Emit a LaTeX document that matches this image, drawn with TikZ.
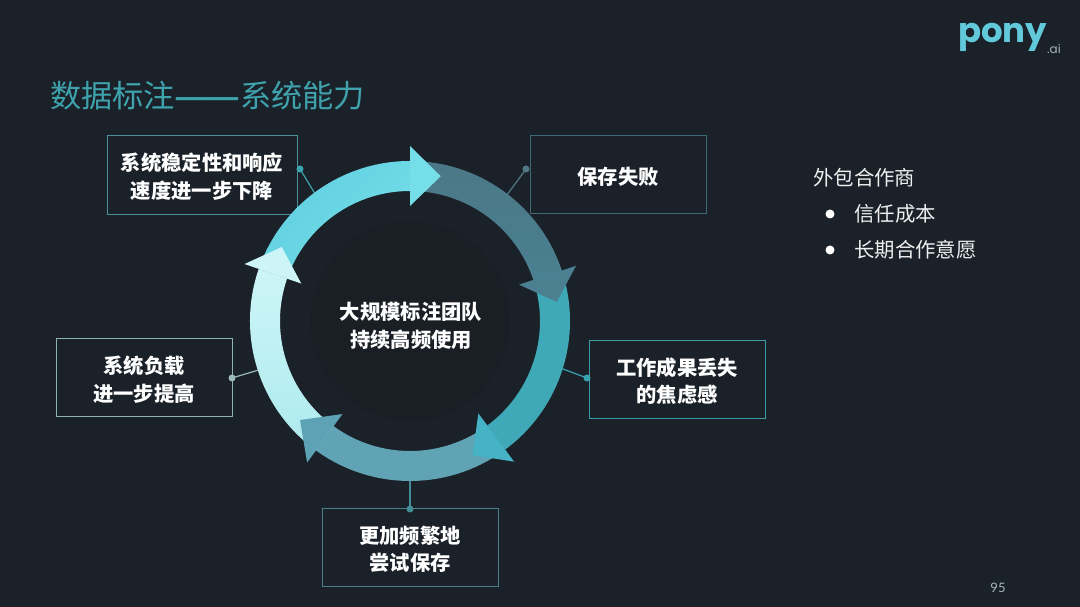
\documentclass[tikz,border=0pt]{standalone}
\usepackage{fontspec}
\setmainfont{Noto Sans CJK SC}
\newfontfamily\logofont{Poppins}
\newfontfamily\numfont{Lato}
\newfontfamily\dashfont{Liberation Sans}
\definecolor{bgc}{HTML}{1B2129}
\definecolor{innerc}{HTML}{1A1F26}
\definecolor{titlec}{HTML}{3FA3AD}
\definecolor{listc}{HTML}{EDEFF0}
\definecolor{logoc}{HTML}{62C9DA}
\definecolor{logog}{HTML}{A9B4B8}
\definecolor{cA}{HTML}{5FCFE0}
\definecolor{cAb}{HTML}{76DEE9}
\definecolor{cB}{HTML}{4B7886}
\definecolor{cBb}{HTML}{4A8090}
\definecolor{cC}{HTML}{3FA9B8}
\definecolor{cCb}{HTML}{45B3C5}
\definecolor{cD}{HTML}{5FA3B5}
\definecolor{cDb}{HTML}{5EA2B5}
\definecolor{cE}{HTML}{ADEAEF}
\definecolor{cEb}{HTML}{CDF5F7}
\definecolor{ln1}{HTML}{4A8F9A}
\definecolor{ln2}{HTML}{3E6A76}
\definecolor{ln3}{HTML}{3F9AA8}
\definecolor{ln4}{HTML}{8FB3B5}
\definecolor{ln5}{HTML}{4A7F8C}
\tikzset{
  lbl/.style={draw=#1,line width=0.9pt,minimum width=176pt,minimum height=78pt,inner sep=0pt,
    align=center,text=white,font=\bfseries\fontsize{20.3}{27.5}\selectfont},
  dotn/.style={circle,fill=#1,inner sep=0pt,minimum size=7pt},
  conn/.style={draw=#1,line width=1.2pt},
  plain/.style={inner sep=0pt,text=listc,font=\fontsize{20.4}{24}\selectfont},
  bul/.style={circle,fill=white,inner sep=0pt,minimum size=9pt}
}
\newcommand{\lift}{\rule{0pt}{22pt}}
\newcommand{\ringbody}[5]{%
  \path[left color=#3,right color=#4,shading angle=#5]
    (#1:160) arc[start angle=#1,end angle=#2,radius=160]
    -- (#2:130) arc[start angle=#2,end angle=#1,radius=130] -- cycle;}
\newcommand{\ringhead}[3]{%
  \fill[#3] (#1:175) -- (#2:148) -- (#1:115) -- cycle;}
\begin{document}
\begin{tikzpicture}[x=1pt,y=1pt]
\useasboundingbox (0,0) rectangle (1080,607);
\fill[bgc] (0,0) rectangle (1080,607);

% title
\node[anchor=west,inner sep=0pt,text=titlec,font=\fontsize{31.2}{36}\selectfont] (title) at (50,511) {数据标注\hspace{1pt}{\dashfont\bfseries ——}\hspace{2pt}系统能力};

% label boxes
\node[lbl=ln1,minimum width=190pt,minimum height=79pt] (b1) at (202,432.5) {\lift 系统稳定性和响应\\速度进一步下降};
\node[lbl=ln2] (b2) at (618,433) {\lift 保存失败};
\node[lbl=ln3] (b3) at (677,228) {\lift 工作成果丢失\\的焦虑感};
\node[lbl=ln4] (b4) at (144,229.5) {\lift 系统负载\\进一步提高};
\node[lbl=ln5] (b5) at (410,60) {\lift 更加频繁地\\尝试保存};

% connector dots and ring ends
\node[dotn=ln1!80!cyan] (d1) at (300,438) {};
\node[dotn=ln2!90!white] (d2) at (526,438) {};
\node[dotn=ln3!90!cyan] (d3) at (587,229) {};
\node[dotn=ln4!90!white] (d4) at (232,229) {};
\node[dotn=ln5!90!cyan] (d5) at (410,98) {};
\coordinate (e1) at (317,410);
\coordinate (e2) at (504,408);
\coordinate (e3) at (555,241);
\coordinate (e4) at (262,238);
\coordinate (e5) at (410,130);
\draw[conn=ln1!80!cyan] (d1.center) -- (e1);
\draw[conn=ln2!90!white] (d2.center) -- (e2);
\draw[conn=ln3!90!cyan] (d3.center) -- (e3);
\draw[conn=ln4!90!white] (d4.center) -- (e4);
\draw[conn=ln5!90!cyan] (d5.center) -- (e5);

% ring
\begin{scope}[shift={(410,286)}]
  \fill[innerc] (0,0) circle[radius=100];
  \ringbody{161}{90}{cA}{cAb}{45}
  \ringbody{90}{18.4}{cB}{cBb}{0}
  \ringbody{18.4}{-53.5}{cC}{cC}{0}
  \ringbody{-53.5}{-126}{cD}{cD}{0}
  \ringbody{234}{161}{cEb}{cE}{0}
  \ringhead{90}{78}{cAb}
  \ringhead{18.4}{7.4}{cBb}
  \ringhead{-53.5}{-65}{cCb}
  \ringhead{-126}{-138}{cDb}
  \ringhead{161}{150}{cEb}
\end{scope}

% centre
\node[inner sep=0pt,align=center,text=white,font=\bfseries\fontsize{20.3}{28}\selectfont] (centre) at (411,281) {大规模标注团队\\持续高频使用};

% right list
\node[plain,anchor=west] (l0) at (813,429) {外包合作商};
\node[bul] (bu1) at (830,393) {};
\node[plain,anchor=west] (l1) at (854,393) {信任成本};
\node[bul] (bu2) at (830,357) {};
\node[plain,anchor=west] (l2) at (854,357) {长期合作意愿};

% logo
\node[anchor=base west,inner sep=0pt,text=logoc,font=\logofont\bfseries\fontsize{34}{40}\selectfont] (logo) at (958,564) {pony};
\node[anchor=base west,inner sep=0pt,text=logog,font=\logofont\fontsize{12}{14}\selectfont] (ai) at (1047,553) {.ai};

% page number
\node[inner sep=0pt,text=logog,font=\numfont\fontsize{13}{15}\selectfont] (page) at (998,19) {95};
\end{tikzpicture}
\end{document}
